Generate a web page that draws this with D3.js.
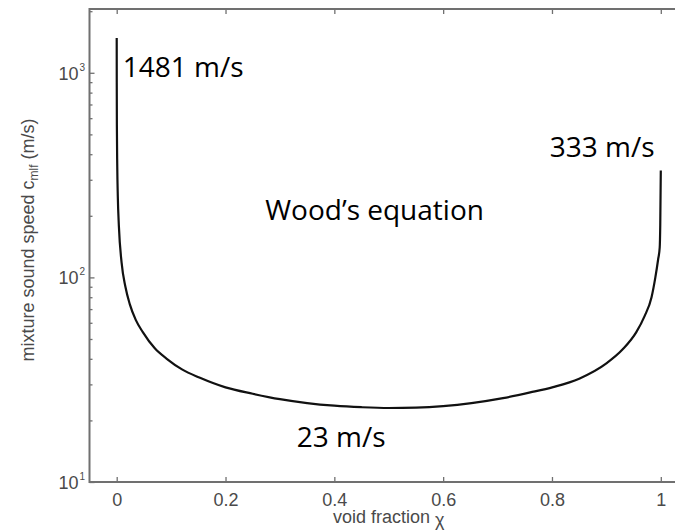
<!DOCTYPE html>
<meta charset="utf-8">
<title>Wood's equation</title>
<style>

body {
  margin: 0;
  background: #fff;
}

.axis text, .label {
  font: 18px "Liberation Sans", Arial, sans-serif;
  fill: #4a4a4a;
}

.frame {
  fill: none;
  stroke: #707070;
  stroke-width: 2px;
}

.tick line {
  stroke: #707070;
  stroke-width: 1.3px;
}

.note {
  font-family: "Open Sans", sans-serif;
  font-size: 28px;
  fill: #000;
}

</style>
<body>
<script src="https://cdn.jsdelivr.net/npm/d3@7"></script>
<script>

// void fraction and mixture sound speed (m/s)
var voidFraction = [0, 0.0001, 0.0003, 0.001, 0.002, 0.004, 0.009, 0.016, 0.024,
    0.035, 0.048, 0.07, 0.092, 0.12, 0.153, 0.2, 0.25, 0.3, 0.35, 0.4, 0.45, 0.5,
    0.55, 0.6, 0.652, 0.71, 0.76, 0.802, 0.85, 0.9, 0.93, 0.955, 0.97, 0.983,
    0.99, 0.995, 0.998, 0.999, 1];
var soundSpeed = [1481, 900, 560, 350, 250, 178, 118, 90, 74,
    62, 54, 45, 40, 35.5, 32.3, 29.0, 27.0, 25.4, 24.3, 23.6, 23.2, 23.0,
    23.1, 23.5, 24.3, 25.7, 27.4, 29.1, 32.0, 38, 44.5, 54, 64.5, 80,
    100, 122, 140, 180, 333];

var xTicks = [0, 0.2, 0.4, 0.6, 0.8, 1],
    yDecades = [1, 2, 3];

var notes = [
  {text: "1481 m/s", x: 0.011, y: 956},
  {text: "333 m/s", x: 0.796, y: 388},
  {text: "Wood\u2019s equation", x: 0.273, y: 191},
  {text: "23 m/s", x: 0.331, y: 14.8}
];

var width = 675,
    height = 531;

var x = d3.scaleLinear().domain([-0.05, 1.05]).range([89.5, 688]),
    y = d3.scaleLog().domain([10, 2050]).range([482, 9]);

var svg = d3.select("body").append("svg")
    .attr("width", width)
    .attr("height", height);

// x axes, bottom and top, ticks pointing in
var xAxis = svg.append("g")
    .attr("class", "axis")
    .attr("transform", "translate(0," + y(10) + ")")
    .call(d3.axisBottom(x).tickValues(xTicks).tickSize(-5).tickPadding(11)
      .tickFormat(function(d) { return d3.format("")(d); }));
xAxis.select(".domain").remove();

var xTop = svg.append("g")
    .attr("class", "axis")
    .attr("transform", "translate(0," + y.range()[1] + ")")
    .call(d3.axisTop(x).tickValues(xTicks).tickSize(-5).tickFormat(""));
xTop.select(".domain").remove();

// y axis with log minor ticks
var minor = [];
yDecades.forEach(function(p) {
  for (var k = 2; k <= 9; k++) {
    var v = k * Math.pow(10, p);
    if (v < y.domain()[1]) minor.push(v);
  }
});
svg.append("g")
    .attr("class", "axis")
    .attr("transform", "translate(" + x.range()[0] + ",0)")
    .call(d3.axisRight(y).tickValues(minor).tickSize(3).tickFormat(""))
    .select(".domain").remove();

var yAxis = svg.append("g")
    .attr("class", "axis")
    .attr("transform", "translate(" + x.range()[0] + ",0)")
    .call(d3.axisRight(y).tickValues(yDecades.map(function(p) { return Math.pow(10, p); }))
      .tickSize(5).tickFormat(""));
yAxis.select(".domain").remove();

var yLab = svg.append("g").attr("class", "axis");
yDecades.forEach(function(p) {
  yLab.append("text")
      .attr("x", x.range()[0] - 11)
      .attr("y", y(Math.pow(10, p)) + 7)
      .attr("text-anchor", "end")
      .text("10");
  yLab.append("text")
      .attr("x", x.range()[0] - 10)
      .attr("y", y(Math.pow(10, p)) - 2)
      .style("font-size", "10px")
      .text(p);
});

svg.append("rect")
    .attr("class", "frame")
    .attr("x", x.range()[0])
    .attr("y", y.range()[1])
    .attr("width", x.range()[1] - x.range()[0])
    .attr("height", y.range()[0] - y.range()[1]);

// axis titles
var xTitle = svg.append("text")
    .attr("class", "label")
    .attr("x", x(0.5))
    .attr("y", 523)
    .attr("text-anchor", "middle");
xTitle.append("tspan").text("void fraction ");
xTitle.append("tspan").attr("dy", 3).text("\u03c7");

var yTitle = svg.append("text")
    .attr("class", "label")
    .attr("transform", "translate(34,240)rotate(-90)")
    .attr("text-anchor", "middle");
yTitle.append("tspan").text("mixture sound speed c");
yTitle.append("tspan").attr("dy", 4).style("font-size", "12px").text("mlf");
yTitle.append("tspan").attr("dy", -4).text(" (m/s)");

// the curve
var data = voidFraction.map(function(v, i) { return [v, soundSpeed[i]]; });

svg.append("path")
    .datum(data)
    .attr("fill", "none")
    .attr("stroke", "#111")
    .attr("stroke-width", 2.2)
    .attr("d", d3.line()
      .x(function(d) { return x(d[0]); })
      .y(function(d) { return y(d[1]); })
      .curve(d3.curveMonotoneX));

svg.selectAll(".note")
    .data(notes)
  .enter().append("text")
    .attr("class", "note")
    .attr("x", function(d) { return x(d.x); })
    .attr("y", function(d) { return y(d.y); })
    .text(function(d) { return d.text; });

</script>
